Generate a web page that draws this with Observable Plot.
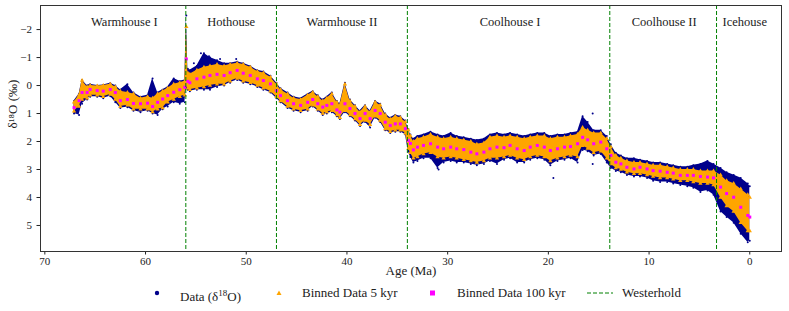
<!DOCTYPE html>
<html><head><meta charset="utf-8">
<script src="https://cdn.jsdelivr.net/npm/d3@7"></script>
<script src="https://cdn.jsdelivr.net/npm/@observablehq/plot@0.6"></script>
<style>
body{margin:0;background:#fff;font-family:"Liberation Serif","DejaVu Serif",serif;}
#wrap{position:relative;width:789px;height:311px;overflow:hidden;}
.leg{position:absolute;top:284px;font-size:13px;color:#222;line-height:18px;white-space:nowrap;font-family:"Liberation Serif","DejaVu Serif",serif;}
.ico{position:absolute;top:284px;}
</style></head>
<body><div id="wrap"></div>
<script>
// Age (Ma) of each reading
const ages = [67.1,66.6,66.3,65.8,65.5,64.8,64.2,63.5,63.0,62.5,61.8,61.2,60.5,59.8,59.3,58.8,58.3,57.8,57.2,56.6,56.1,55.95,55.8,55.6,54.9,54.2,53.6,52.9,52.2,51.6,50.9,50.3,49.6,48.9,48.3,47.6,47.0,46.6,45.9,45.3,44.6,43.9,43.4,42.9,42.4,42.0,41.5,41.0,40.7,40.2,39.7,39.2,38.7,38.2,37.7,37.2,36.7,36.2,35.7,35.2,34.7,34.2,33.9,33.7,33.4,33.0,32.4,31.7,31.0,30.4,29.7,29.1,28.4,27.7,27.1,26.4,25.8,25.1,24.4,23.8,23.1,22.4,21.8,21.1,20.4,19.8,19.1,18.4,17.8,17.1,16.6,16.1,15.5,14.8,14.2,13.8,13.3,12.8,12.2,11.5,10.9,10.2,9.6,8.9,8.2,7.6,6.9,6.2,5.6,4.9,4.2,3.6,2.9,2.3,1.6,0.9,0.2,0.0];
// Binned Data 100 kyr (pink)
const binned100 = [0.79,0.54,0.25,0.25,0.14,0.18,0.20,0.14,0.25,0.54,0.50,0.64,0.65,0.63,0.75,0.60,0.48,0.36,0.24,0.15,0.06,-0.95,-0.15,-0.10,-0.24,-0.30,-0.36,-0.40,-0.36,-0.46,-0.54,-0.44,-0.36,-0.24,-0.18,-0.06,0.18,0.36,0.54,0.65,0.71,0.60,0.50,0.65,0.77,0.71,0.65,0.87,0.95,0.65,0.82,1.00,1.18,1.00,1.18,0.89,1.00,1.31,1.43,1.37,1.37,1.54,1.96,2.07,2.30,2.20,2.14,2.08,2.20,2.26,2.20,2.26,2.29,2.38,2.44,2.38,2.26,2.20,2.22,2.14,2.26,2.32,2.20,2.14,2.20,2.32,2.26,2.20,2.18,2.08,1.85,1.94,2.08,2.02,2.26,2.50,2.74,2.80,2.92,2.98,2.92,2.98,3.04,3.06,3.10,3.13,3.21,3.21,3.21,3.25,3.27,3.30,3.63,3.86,3.99,4.35,4.64,4.70];
// Binned Data 5 kyr spread (orange): upper and lower edge
const binned5Lo = [0.60,0.35,-0.18,0.05,0.00,0.02,0.00,-0.05,0.05,0.20,0.25,0.30,0.45,0.40,0.45,0.30,0.20,0.10,-0.05,-0.10,-0.15,-2.10,-0.45,-0.40,-0.55,-0.65,-0.70,-0.75,-0.70,-0.75,-0.80,-0.75,-0.65,-0.50,-0.45,-0.30,-0.05,0.15,0.30,0.45,0.50,0.35,0.25,0.40,0.55,0.45,0.30,0.60,0.70,-0.05,0.55,0.75,0.95,0.75,0.95,0.60,0.70,1.05,1.20,1.10,1.15,1.30,1.60,1.80,2.00,1.90,1.85,1.75,1.85,1.90,1.85,1.90,1.95,2.00,2.10,2.05,1.85,1.80,1.85,1.80,1.85,1.90,1.85,1.80,1.80,1.90,1.85,1.85,1.80,1.75,1.50,1.60,1.70,1.70,1.90,2.20,2.50,2.60,2.70,2.75,2.75,2.80,2.85,2.85,2.90,2.95,3.00,3.00,3.00,3.05,3.05,3.05,3.20,3.40,3.50,3.70,3.90,4.00];
const binned5Hi = [0.92,0.75,0.50,0.45,0.35,0.35,0.40,0.32,0.50,0.75,0.70,0.85,0.85,0.85,0.95,0.85,0.80,0.60,0.50,0.40,0.35,0.00,0.10,0.15,0.10,0.05,0.00,-0.05,-0.05,-0.15,-0.25,-0.15,-0.10,0.00,0.10,0.20,0.40,0.55,0.75,0.85,0.90,0.85,0.70,0.85,1.00,0.95,0.90,1.05,1.15,0.90,1.05,1.20,1.40,1.25,1.40,1.10,1.25,1.55,1.65,1.60,1.60,1.70,2.25,2.40,2.60,2.55,2.45,2.40,2.55,2.60,2.55,2.60,2.65,2.70,2.75,2.70,2.60,2.60,2.55,2.50,2.60,2.65,2.55,2.50,2.55,2.70,2.60,2.55,2.50,2.55,2.15,2.25,2.40,2.35,2.60,2.80,2.95,3.00,3.10,3.15,3.15,3.20,3.25,3.30,3.30,3.35,3.40,3.40,3.45,3.50,3.50,3.55,4.00,4.30,4.50,4.90,5.20,5.20];
// Data (δ18O) spread (dark blue): upper and lower edge
const dataLo = [0.55,0.30,-0.20,0.00,-0.05,0.00,-0.02,-0.08,0.00,0.15,-0.05,0.25,0.40,0.35,-0.25,0.25,0.15,0.05,-0.25,-0.15,-0.20,-2.50,-0.60,-0.55,-0.70,-1.15,-1.00,-0.90,-0.80,-0.80,-0.85,-0.80,-0.70,-0.55,-0.50,-0.35,-0.10,0.10,0.25,0.40,0.45,0.30,0.20,0.35,0.50,0.40,0.25,0.55,0.65,-0.10,0.50,0.70,0.90,0.70,0.90,0.55,0.65,1.00,1.15,1.05,1.10,1.25,1.55,1.75,1.90,1.80,1.75,1.65,1.75,1.80,1.70,1.80,1.85,1.90,1.95,1.90,1.75,1.70,1.75,1.70,1.75,1.80,1.75,1.70,1.70,1.80,1.75,1.75,1.70,1.65,1.10,1.30,1.60,1.60,1.80,2.10,2.40,2.50,2.60,2.60,2.65,2.70,2.75,2.75,2.80,2.85,2.90,2.90,2.85,2.80,2.70,2.80,2.95,3.10,3.20,3.30,3.50,3.60];
const dataHi = [1.00,1.05,0.65,0.50,0.40,0.40,0.45,0.38,0.60,0.80,0.78,0.90,0.95,0.90,1.00,1.05,0.85,0.75,0.60,0.65,0.60,0.10,0.15,0.20,0.15,0.15,0.15,0.05,0.00,-0.10,-0.20,-0.10,-0.05,0.05,0.15,0.25,0.45,0.60,0.80,0.90,0.95,0.90,0.75,0.90,1.05,1.00,0.95,1.10,1.20,0.95,1.10,1.25,1.45,1.30,1.50,1.15,1.30,1.60,1.70,1.65,1.65,1.75,2.35,2.55,2.75,2.70,2.60,2.60,2.95,2.75,2.70,2.75,2.75,2.80,2.85,2.80,2.70,2.80,2.65,2.60,2.75,2.75,2.65,2.60,2.65,2.85,2.70,2.65,2.60,2.75,2.30,2.35,2.50,2.45,2.75,2.95,3.05,3.10,3.20,3.25,3.25,3.30,3.40,3.45,3.45,3.50,3.55,3.60,3.65,3.80,3.75,3.90,4.50,4.70,4.90,5.30,5.60,5.55];
// Isolated data points away from the main cloud
const outlierAges = [55.2,54.5,53.7,52.6,51.0,30.9,19.5,15.6,15.6];
const outlierValues = [-0.80,-1.15,-1.05,-0.95,-0.95,3.00,3.30,1.00,2.80];
// Westerhold climate state boundaries (Ma)
const westerhold = [56, 47, 34, 13.9, 3.3];
const stateNames = ["Warmhouse I","Hothouse","Warmhouse II","Coolhouse I","Coolhouse II","Icehouse"];
const stateLabelAges = [62.1, 51.5, 40.5, 23.8, 8.5, 0.5];
const xTicks = [70,60,50,40,30,20,10,0];
const yTicks = [-2,-1,0,1,2,3,4,5];

const rows = ages.map((a,i)=>({age:a, b100:binned100[i], oLo:binned5Lo[i], oHi:binned5Hi[i], dLo:dataLo[i], dHi:dataHi[i]}));
const outliers = outlierAges.map((a,i)=>({age:a, v:outlierValues[i]}));
const states = stateNames.map((n,i)=>({name:n, age:stateLabelAges[i]}));

const NAVY = "#00008b", ORANGE = "#ffa500", PINK = "#ff00ff", GREEN = "#008000";
const FONT = '"Liberation Serif","DejaVu Serif",serif';

const chart = Plot.plot({
  width: 789, height: 282,
  marginLeft: 40, marginRight: 8, marginTop: 5, marginBottom: 31,
  style: {fontFamily: FONT, fontSize: "11px", color: "#222", background: "#fff"},
  x: {domain: [70.43, -3.15], ticks: xTicks, label: null},
  y: {domain: [5.93, -2.86], ticks: yTicks, label: null},
  marks: [
    Plot.areaY(rows, {x: "age", y1: "dLo", y2: "dHi", fill: NAVY}),
    Plot.dot(rows, {x: "age", y: "dLo", r: 1, fill: NAVY, stroke: null}),
    Plot.dot(rows, {x: "age", y: "dHi", r: 1, fill: NAVY, stroke: null}),
    Plot.dot(outliers, {x: "age", y: "v", r: 1, fill: NAVY, stroke: null}),
    Plot.areaY(rows, {x: "age", y1: "oLo", y2: "oHi", fill: ORANGE}),
    Plot.dot(rows, {x: "age", y: "oLo", r: 1.6, symbol: "triangle", fill: ORANGE, stroke: null}),
    Plot.dot(rows, {x: "age", y: "oHi", r: 1.6, symbol: "triangle", fill: ORANGE, stroke: null}),
    Plot.dot(rows, {x: "age", y: "b100", r: 1.7, symbol: "square", fill: PINK, stroke: null}),
    Plot.ruleX(westerhold, {stroke: GREEN, strokeWidth: 1, strokeDasharray: "4,2"}),
    Plot.text(states, {x: "age", text: "name", frameAnchor: "top", dy: 12, fontSize: 12.5, fill: "#222", fontFamily: FONT}),
    Plot.axisX({ticks: xTicks, tickSize: 3.5, tickPadding: 2, label: null, fontSize: 11, fontFamily: FONT}),
    Plot.axisY({ticks: yTicks, tickSize: 3.5, tickPadding: 5, label: null, fontSize: 11, fontFamily: FONT}),
    Plot.text(["Age (Ma)"], {frameAnchor: "bottom", dy: 23, fontSize: 13, fill: "#222", fontFamily: FONT}),
    Plot.text(["δ¹⁸O (‰)"], {frameAnchor: "left", dx: -28, rotate: -90, fontSize: 13, fill: "#222", fontFamily: FONT}),
    Plot.frame({stroke: "#333", strokeWidth: 1})
  ]
});
const wrap = document.getElementById("wrap");
wrap.appendChild(chart);

function addIcon(svg, left){
  const d = document.createElement("div");
  d.className = "ico"; d.style.left = left + "px";
  d.innerHTML = svg; wrap.appendChild(d);
}
function addText(html, left){
  const d = document.createElement("div");
  d.className = "leg"; d.style.left = left + "px";
  d.innerHTML = html; wrap.appendChild(d);
}
addIcon('<svg width="10" height="18"><circle cx="5" cy="9" r="2.2" fill="'+NAVY+'"/></svg>', 152);
addText('Data (δ<sup style="font-size:9px">18</sup>O)', 180);
addIcon('<svg width="10" height="18"><path d="M5,6.5 L7.5,11 L2.5,11 Z" fill="'+ORANGE+'"/></svg>', 274);
addText('Binned Data 5 kyr', 302);
addIcon('<svg width="10" height="18"><rect x="2" y="6.5" width="5" height="5" fill="'+PINK+'"/></svg>', 428);
addText('Binned Data 100 kyr', 457);
addIcon('<svg width="30" height="18"><line x1="2" y1="9" x2="28" y2="9" stroke="'+GREEN+'" stroke-width="1" stroke-dasharray="4,2"/></svg>', 585);
addText('Westerhold', 622);
</script>
</body></html>
